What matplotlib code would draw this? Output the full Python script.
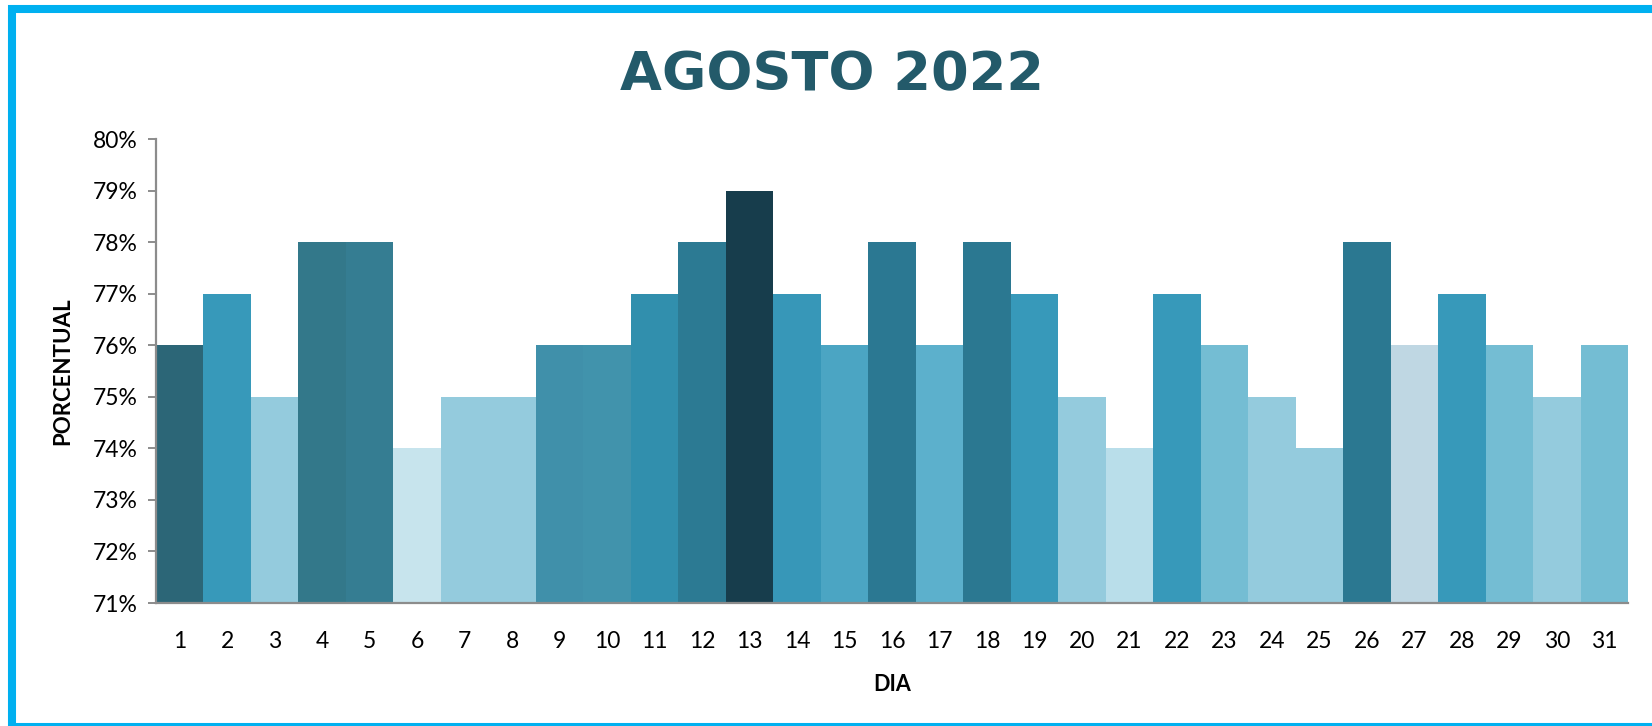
import matplotlib.pyplot as plt
from matplotlib.patches import Rectangle
from matplotlib.ticker import FuncFormatter

# daily values for August 2022 (percent)
dias = list(range(1, 32))
porcentual = [76, 77, 75, 78, 78, 74, 75, 75, 76, 76, 77, 78, 79, 77, 76, 78,
              76, 78, 77, 75, 74, 77, 76, 75, 74, 78, 76, 77, 76, 75, 76]
cores = ["#2C6677", "#3799BA", "#94CBDD", "#33788A", "#357D92", "#C7E4ED",
         "#94CBDD", "#94CBDD", "#4090AA", "#4193AC", "#318FAD", "#2C7A93",
         "#173D4C", "#3797B8", "#4BA5C3", "#2B7892", "#5CB0CC", "#2B7891",
         "#3799BA", "#94CBDD", "#B9DEEA", "#3799BA", "#74BDD3", "#94CBDD",
         "#94CBDD", "#2B7891", "#BFD7E3", "#3799BA", "#74BDD3", "#94CBDD",
         "#74BDD3"]
base = 71

W, H = 1652, 726
fig = plt.figure(figsize=(W / 100, H / 100), dpi=100)
ax = fig.add_axes([156 / W, 1 - 603 / H, (1628 - 156) / W, (603 - 139) / H])

alturas = [v - base for v in porcentual]
ax.bar(dias, alturas, bottom=base, width=1.0, color=cores, linewidth=0)

ax.set_xlim(0.5, 31.5)
ax.set_ylim(71, 80)
ax.set_yticks(range(71, 81))
ax.yaxis.set_major_formatter(FuncFormatter(lambda v, p: f"{v:.0f}%"))
ax.set_xticks(dias)

for s in ["top", "right"]:
    ax.spines[s].set_visible(False)
for s in ["left", "bottom"]:
    ax.spines[s].set_color("#8C8C8C")
    ax.spines[s].set_linewidth(1.6)

ax.tick_params(axis="y", length=6, width=1.4, color="#8C8C8C", pad=7,
               labelsize=16.5, labelcolor="#000000")
ax.tick_params(axis="x", length=0, pad=20, labelsize=16.5, labelcolor="#000000")
for lab in ax.get_xticklabels() + ax.get_yticklabels():
    lab.set_fontfamily("Lato")

ax.set_xlabel("DIA", fontsize=15.5, fontweight="bold", family="Lato", labelpad=16)
ax.set_ylabel("PORCENTUAL", fontsize=16, fontweight="bold", family="Lato", labelpad=14)

fig.text(0.5035, 1 - 75 / H, "AGOSTO 2022", ha="center", va="center",
         fontsize=39, fontweight="heavy", color="#235A6A", family="DejaVu Sans")

# blue frame (right side falls outside the picture)
fig.add_artist(Rectangle((12 / W, -1 / H), 1.05, (H - 9) / H + 1 / H,
                         transform=fig.transFigure, fill=False,
                         edgecolor="#00B0F0", linewidth=5.8))

fig.savefig("out.png", dpi=100)
